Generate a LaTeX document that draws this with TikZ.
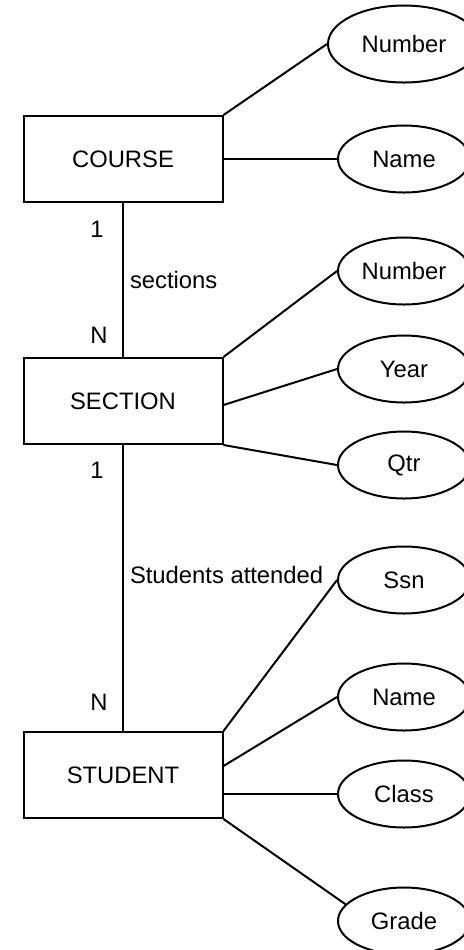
\documentclass[tikz,border=0pt]{standalone}
\usepackage{fontspec}
\setmainfont{Liberation Sans}
\usetikzlibrary{shapes, positioning}

\begin{document}
\begin{tikzpicture}[x=0.5pt, y=-0.5pt, line width=1pt, font=\fontsize{11.9}{14}\selectfont,
		entity/.style={draw, rectangle, minimum width=99.5pt, minimum height=43pt},
		attrib/.style={draw, ellipse, minimum width=66pt, minimum height=33.5pt, inner sep=0pt},
		card/.style={inner sep=0pt}]
		\useasboundingbox (0,0) rectangle (463,950);
		\node [entity] (course) at (123,159) {COURSE};
		\node [entity] (section) at (123,401) {SECTION};
		\node [entity] (student) at (123,775) {STUDENT};
		
		\node [attrib, minimum width=76pt, minimum height=38.5pt] (cnum) at (404,44) {Number};
		\node [attrib] (cname) at (404,159) {Name};
		\node [attrib] (snum) at (404,271) {Number};
		\node [attrib] (syear) at (404,369) {Year};
		\node [attrib] (sqtr) at (404,465) {Qtr};
		\node [attrib] (tssn) at (404,580) {Ssn};
		\node [attrib] (tname) at (404,697) {Name};
		\node [attrib] (tclass) at (404,794) {Class};
		\node [attrib] (tgrade) at (404,921) {Grade};
		
		\draw (course.north east) -- (cnum.west);
		\draw (course.east) -- (cname.west);
		\draw (section.north east) -- (snum.west);
		\draw ([yshift=-2pt]section.east) -- (syear.west);
		\draw (section.south east) -- (sqtr.west);
		\draw (student.north east) -- (tssn.west);
		\draw ([yshift=4.5pt]student.east) -- (tname.west);
		\draw ([yshift=-9.5pt]student.east) -- (tclass.west);
		\draw (student.south east) -- (tgrade.164);
		
		\draw (course) -- (section);
		\draw (section) -- (student);
		
		\node [card] (c1) at (97,229) {1};
		\node [card] (cn) at (99,335) {N};
		\node [card, anchor=west] (rsec) at (129,280) {sections};
		\node [card] (s1) at (97,470) {1};
		\node [card] (sn) at (99,702) {N};
		\node [card, anchor=west] (ratt) at (129,575) {Students attended};
	\end{tikzpicture}
\end{document}
